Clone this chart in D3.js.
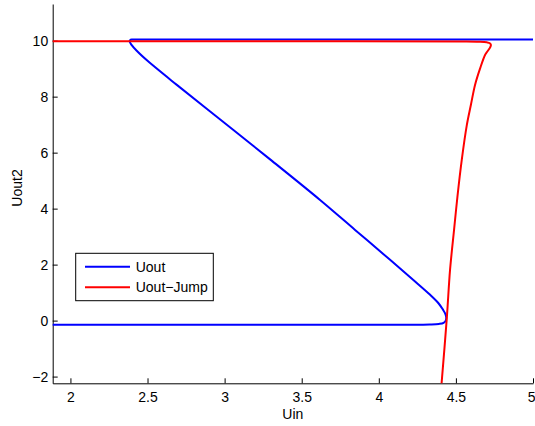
<!DOCTYPE html>
<html>
<head>
<meta charset="utf-8">
<script src="https://cdn.jsdelivr.net/npm/d3@7/dist/d3.min.js"></script>
<style>
  html, body { margin: 0; padding: 0; background: #fff; }
  svg { display: block; }
  text { font-family: "Liberation Sans", Arial, Helvetica, sans-serif; fill: #000; }
</style>
</head>
<body>
<svg id="chart" width="535" height="426"></svg>
<script>
// ---- data ----
const xTicks = [2, 2.5, 3, 3.5, 4, 4.5, 5];
const yTicks = [-2, 0, 2, 4, 6, 8, 10];
const seriesNames = ["Uout", "Uout\u2212Jump"];
const seriesColors = ["#0000ff", "#ff0000"];

const uoutX = [1.885, 3.0, 4.2, 4.33, 4.39, 4.42, 4.434, 4.437, 4.43, 4.415, 4.387, 4.333, 4.224, 4.073, 3.846, 3.619, 3.295, 3.057, 2.69, 2.50, 2.43, 2.395, 2.384, 2.387, 2.40, 2.45, 2.6, 3.5, 5.0];
const uoutY = [-0.15, -0.15, -0.15, -0.14, -0.12, -0.08, 0.0, 0.12, 0.26, 0.40, 0.62, 0.92, 1.45, 2.17, 3.24, 4.31, 5.76, 6.81, 8.42, 9.28, 9.64, 9.86, 9.97, 10.02, 10.04, 10.04, 10.04, 10.04, 10.04];

const jumpX = [1.885, 3.5, 4.55, 4.65, 4.70, 4.72, 4.727, 4.722, 4.705, 4.689, 4.657, 4.624, 4.597, 4.571, 4.538, 4.510, 4.488, 4.462, 4.441, 4.404];
const jumpY = [9.98, 9.98, 9.97, 9.96, 9.94, 9.91, 9.85, 9.76, 9.62, 9.49, 9.01, 8.42, 7.70, 6.99, 5.74, 4.43, 3.24, 1.81, 0.09, -2.45];

const xDomain = [1.885, 5];
const yDomain = [-2.24, 11.31];

// ---- layout ----
const svg = d3.select("#chart");
const L = 52.7, R = 533, T = 4, B = 383.3;
const W = 535;
const x = d3.scaleLinear().domain(xDomain).range([L, R]);
const y = d3.scaleLinear().domain(yDomain).range([B, T]);
const fontSize = 14;

svg.append("defs").append("clipPath").attr("id", "clip")
  .append("rect").attr("x", L).attr("y", T).attr("width", R - L).attr("height", B - T);

// axes (MATLAB-like, ticks inward)
const xAxis = d3.axisBottom(x).tickValues(xTicks).tickSizeInner(-5).tickSizeOuter(0).tickPadding(9)
  .tickFormat(d3.format("~g"));
const yAxis = d3.axisLeft(y).tickValues(yTicks).tickSizeInner(-5).tickSizeOuter(0).tickPadding(9)
  .tickFormat(d => d < 0 ? "\u2212" + Math.abs(d) : String(d));

const gx = svg.append("g").attr("transform", `translate(0,${B})`).call(xAxis);
const gy = svg.append("g").attr("transform", `translate(${L},0)`).call(yAxis);
[gx, gy].forEach(g => {
  g.select(".domain").attr("stroke", "#000").attr("stroke-width", 1);
  g.selectAll(".tick line").attr("stroke", "#000").attr("stroke-width", 1);
  g.selectAll(".tick text").attr("font-size", fontSize)
    .attr("font-family", '"Liberation Sans", Arial, sans-serif').attr("fill", "#000");
});
gy.selectAll(".tick text").attr("x", -4.5);
// keep the last x tick label inside the window (flush with the right edge, as in the reference)
gx.selectAll(".tick text").filter(d => d === xTicks[xTicks.length - 1])
  .attr("text-anchor", "end").attr("x", W - x(xTicks[xTicks.length - 1]));

// lines
const line = d3.line().x(d => x(d[0])).y(d => y(d[1])).curve(d3.curveCatmullRom.alpha(0.5));
const series = [d3.zip(uoutX, uoutY), d3.zip(jumpX, jumpY)];
const plot = svg.append("g").attr("clip-path", "url(#clip)");
series.forEach((s, i) => {
  plot.append("path").datum(s).attr("d", line)
    .attr("fill", "none").attr("stroke", seriesColors[i]).attr("stroke-width", 2)
    .attr("stroke-linejoin", "round").attr("stroke-linecap", "round");
});

// axis labels
svg.append("text").attr("x", (L + R) / 2).attr("y", 419).attr("text-anchor", "middle")
  .attr("font-size", fontSize).text("Uin");
svg.append("text").attr("transform", `translate(22,188) rotate(-90)`).attr("text-anchor", "middle")
  .attr("font-size", fontSize).text("Uout2");

// legend
const lg = svg.append("g").attr("transform", "translate(75.7,253.3)");
lg.append("rect").attr("width", 137.6).attr("height", 47.4)
  .attr("fill", "#fff").attr("stroke", "#000").attr("stroke-width", 1);
seriesNames.forEach((name, i) => {
  const yy = 13.4 + i * 20.6;
  lg.append("line").attr("x1", 9.3).attr("x2", 54.3).attr("y1", yy).attr("y2", yy)
    .attr("stroke", seriesColors[i]).attr("stroke-width", 2);
  lg.append("text").attr("x", 60).attr("y", yy).attr("dy", "0.35em")
    .attr("font-size", fontSize).text(name);
});
</script>
</body>
</html>
